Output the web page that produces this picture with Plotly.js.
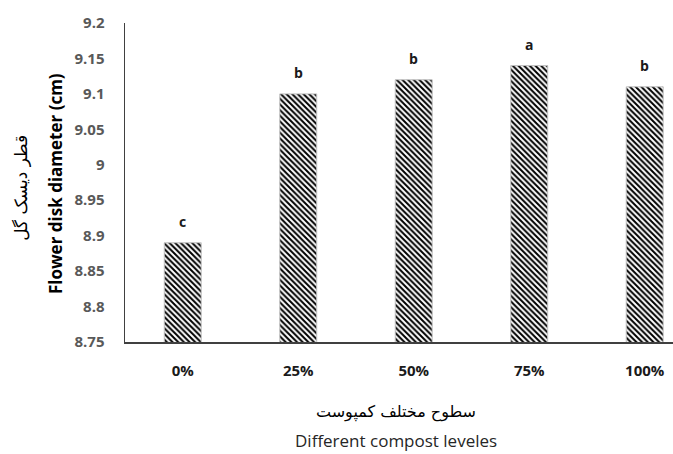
<!DOCTYPE html>
<html><head><meta charset="utf-8">
<script src="https://cdn.plot.ly/plotly-3.0.1.min.js"></script>
<style>html,body{margin:0;padding:0;background:#fff}#c{width:673px;height:454px}</style>
</head><body><div id="c"></div>
<script>
var categories = ["0%", "25%", "50%", "75%", "100%"];
var values = [8.89, 9.10, 9.12, 9.14, 9.11];
var letters = ["c", "b", "b", "a", "b"];
var yTickVals = [8.75, 8.8, 8.85, 8.9, 8.95, 9, 9.05, 9.1, 9.15, 9.2];
var yTickText = ["8.75", "8.8", "8.85", "8.9", "8.95", "9", "9.05", "9.1", "9.15", "9.2"];
var yTitleEn = "Flower disk diameter (cm)";
var yTitleFa = "قطر دیسک گل";
var xTitleFa = "سطوح مختلف کمپوست";
var xTitleEn = "Different compost leveles";

var trace = {
  type: "bar",
  x: categories,
  y: values,
  width: 0.32,
  marker: {
    color: "white",
    line: {color: "#c0c0c0", width: 1},
    pattern: {shape: "\\", fgcolor: "black", bgcolor: "white", size: 4, solidity: 0.5}
  },
  hoverinfo: "none"
};

var annotations = categories.map(function(c, i){
  return {x: c, y: values[i], xref: "x", yref: "y", text: letters[i], showarrow: false,
    yanchor: "bottom", yshift: 10, font: {family: "Open Sans", size: 14, color: "#1a1a1a", weight: "bold"}};
});
annotations.push({xref: "paper", yref: "paper", x: -0.128, y: 0.498, xanchor: "center", yanchor: "middle",
  text: "<b>" + yTitleEn + "</b>", textangle: -90, showarrow: false,
  font: {family: "Open Sans", size: 17, color: "#000"}});
annotations.push({xref: "paper", yref: "paper", x: -0.19, y: 0.483, xanchor: "center", yanchor: "middle",
  text: yTitleFa, textangle: -90, showarrow: false,
  font: {family: "DejaVu Sans", size: 17, color: "#000"}});
annotations.push({xref: "paper", yref: "paper", x: 0.4945, y: -0.219, xanchor: "center", yanchor: "middle",
  text: xTitleFa, showarrow: false,
  font: {family: "DejaVu Sans", size: 16, color: "#000"}});
annotations.push({xref: "paper", yref: "paper", x: 0.4945, y: -0.308, xanchor: "center", yanchor: "middle",
  text: xTitleEn, showarrow: false,
  font: {family: "Open Sans", size: 17, color: "#262626"}});

var layout = {
  width: 673, height: 454,
  margin: {l: 125, r: 0, t: 23, b: 112, pad: 0},
  paper_bgcolor: "white", plot_bgcolor: "white",
  showlegend: false,
  xaxis: {
    type: "category", range: [-0.5, 4.245],
    showline: true, linecolor: "#404040", linewidth: 1.5,
    showgrid: false, zeroline: false, ticks: "",
    ticklabelstandoff: 14,
    tickfont: {family: "Open Sans", size: 15, color: "#1a1a1a", weight: "bold"}
  },
  yaxis: {
    range: [8.75, 9.2],
    tickvals: yTickVals, ticktext: yTickText,
    showline: true, linecolor: "#404040", linewidth: 1.5,
    showgrid: false, zeroline: false, ticks: "",
    ticklabelstandoff: 16,
    tickfont: {family: "Open Sans", size: 15, color: "#595959", weight: "bold"}
  },
  annotations: annotations
};
Plotly.newPlot("c", [trace], layout, {displayModeBar: false, staticPlot: true});
</script></body></html>
